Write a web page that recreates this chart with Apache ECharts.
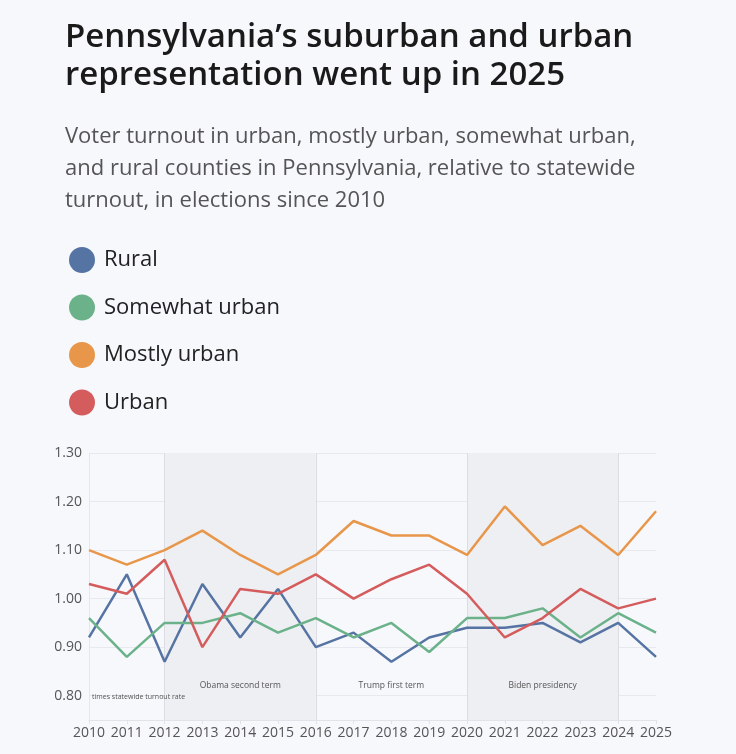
<!DOCTYPE html>
<html>
<head>
<meta charset="utf-8">
<script src="https://cdn.jsdelivr.net/npm/echarts@6/dist/echarts.min.js"></script>
<style>
  html, body { margin: 0; padding: 0; background: #f7f8fc; }
  #chart { width: 736px; height: 754px; }
</style>
</head>
<body>
<div id="chart"></div>
<script>
const years = ['2010', '2011', '2012', '2013', '2014', '2015', '2016', '2017',
  '2018', '2019', '2020', '2021', '2022', '2023', '2024', '2025'];

const rural = [0.92, 1.05, 0.87, 1.03, 0.92, 1.02, 0.90, 0.93, 0.87, 0.92, 0.94, 0.94, 0.95, 0.91, 0.95, 0.88];
const somewhatUrban = [0.96, 0.88, 0.95, 0.95, 0.97, 0.93, 0.96, 0.92, 0.95, 0.89, 0.96, 0.96, 0.98, 0.92, 0.97, 0.93];
const mostlyUrban = [1.10, 1.07, 1.10, 1.14, 1.09, 1.05, 1.09, 1.16, 1.13, 1.13, 1.09, 1.19, 1.11, 1.15, 1.09, 1.18];
const urban = [1.03, 1.01, 1.08, 0.90, 1.02, 1.01, 1.05, 1.00, 1.04, 1.07, 1.01, 0.92, 0.96, 1.02, 0.98, 1.00];

// presidential terms shown as bands
const terms = [
  { name: 'Obama second term', from: '2012', to: '2016', shaded: true },
  { name: 'Trump first term', from: '2016', to: '2020', shaded: false },
  { name: 'Biden presidency', from: '2020', to: '2024', shaded: true }
];
const termLines = ['2012', '2016', '2020', '2024'];

const colors = ['#5674a3', '#6bb28a', '#e7964a', '#d45c5c'];
const font = '"Open Sans", Lato, sans-serif';

const chart = echarts.init(document.getElementById('chart'));

const lineSeries = (name, data) => ({
  name: name,
  type: 'line',
  data: data,
  symbol: 'none',
  lineStyle: { width: 2.5 },
  z: 5
});

const option = {
  backgroundColor: '#f7f8fc',
  color: colors,
  textStyle: { fontFamily: font },
  title: {
    text: 'Pennsylvania\u2019s suburban and urban\nrepresentation went up in 2025',
    subtext: 'Voter turnout in urban, mostly urban, somewhat urban,\nand rural counties in Pennsylvania, relative to statewide\nturnout, in elections since 2010',
    left: 60,
    top: 14,
    itemGap: 26,
    textStyle: { fontSize: 33, fontWeight: 600, color: '#1a1a1a', lineHeight: 38, fontFamily: font },
    subtextStyle: { fontSize: 22, color: '#555', lineHeight: 32, fontFamily: font }
  },
  legend: {
    orient: 'vertical',
    left: 64,
    top: 242,
    icon: 'circle',
    itemWidth: 26,
    itemHeight: 26,
    itemGap: 21.5,
    selectedMode: false,
    textStyle: { fontSize: 22, color: '#222', padding: [0, 0, 0, 4], fontFamily: font },
    data: ['Rural', 'Somewhat urban', 'Mostly urban', 'Urban']
  },
  grid: { left: 89, right: 80, top: 453, bottom: 34 },
  xAxis: {
    type: 'category',
    data: years,
    boundaryGap: false,
    axisLine: { lineStyle: { color: '#e2e3e8' } },
    axisTick: { show: true, interval: 0, lineStyle: { color: '#e2e3e8' }, length: 4 },
    axisLabel: { interval: 0, color: '#555', fontSize: 14, margin: 6, fontFamily: font },
    splitLine: { show: false }
  },
  yAxis: {
    type: 'value',
    min: 0.75,
    max: 1.3,
    splitNumber: 5,
    axisLine: { show: true, lineStyle: { color: '#e6e7ec' } },
    axisTick: { show: false },
    axisLabel: {
      color: '#555',
      fontSize: 14,
      margin: 7,
      fontFamily: font,
      formatter: v => (Math.abs(v - 0.75) < 1e-6 ? '' : v.toFixed(2))
    },
    splitLine: { lineStyle: { color: '#e8e9ee' } }
  },
  graphic: [{
    type: 'text',
    left: 92,
    top: 693,
    z: 100,
    style: { text: 'times statewide turnout rate', fontSize: 7, fill: '#555', fontFamily: font }
  }],
  series: [
    Object.assign(lineSeries('Rural', rural), {
      markArea: {
        silent: true,
        itemStyle: { color: '#eeeff3' },
        label: { position: 'insideBottom', distance: 30, color: '#555', fontSize: 8.5, fontFamily: font },
        data: terms.map(t => [
          { name: t.name, xAxis: t.from, itemStyle: { color: t.shaded ? '#eeeff3' : 'rgba(0,0,0,0)' } },
          { xAxis: t.to }
        ])
      },
      markLine: {
        silent: true,
        symbol: 'none',
        label: { show: false },
        lineStyle: { color: '#dcdde3', width: 1, type: 'solid' },
        data: termLines.map(y => ({ xAxis: y }))
      }
    }),
    lineSeries('Somewhat urban', somewhatUrban),
    lineSeries('Mostly urban', mostlyUrban),
    lineSeries('Urban', urban)
  ]
};

chart.setOption(option);
</script>
</body>
</html>
